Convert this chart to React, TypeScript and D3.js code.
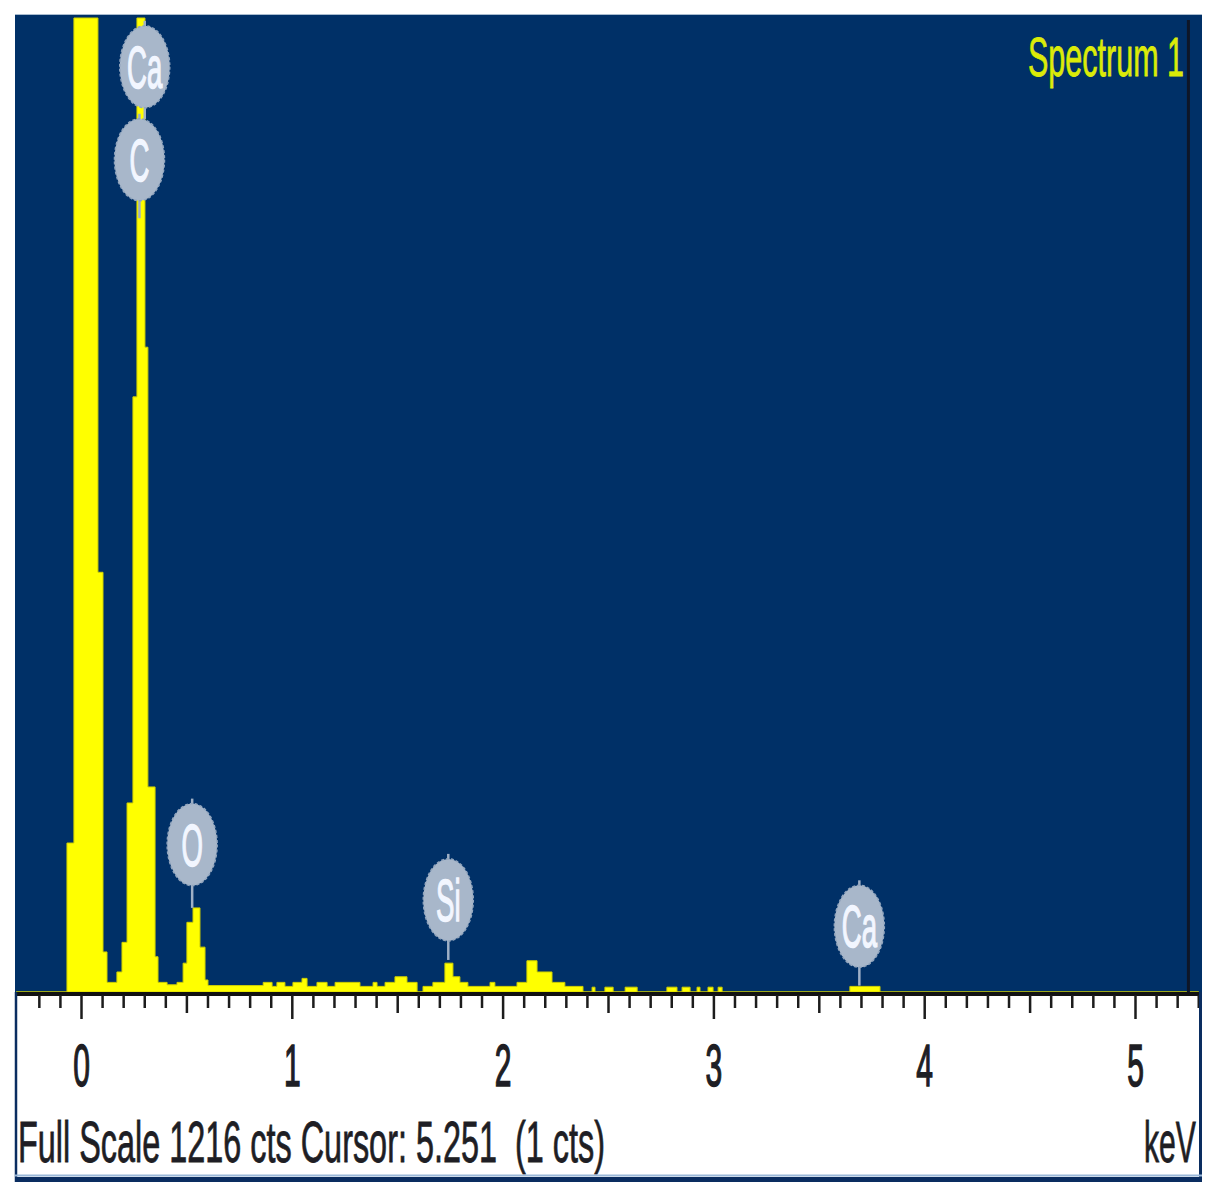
import React from "react";
import * as d3 from "d3";

// ---- data ----
// Left edges of histogram steps (keV) and their counts
const stepEnergies = [
  -0.31, -0.069, -0.036, 0.078, 0.102, 0.121, 0.168, 0.192, 0.216, 0.244, 0.263, 0.301, 0.315,
  0.349, 0.363, 0.406, 0.453, 0.482, 0.5, 0.529, 0.562, 0.586, 0.6,
  0.862, 0.904, 0.927, 0.965, 1.003, 1.046, 1.07, 1.117, 1.165, 1.203, 1.321, 1.383, 1.402,
  1.44, 1.487, 1.544, 1.592, 1.62, 1.667, 1.724, 1.762, 1.795, 1.833, 1.938, 1.961, 2.066,
  2.113, 2.161, 2.232, 2.293, 2.379, 2.422, 2.436, 2.483, 2.522, 2.579, 2.636, 2.777, 2.825,
  2.849, 2.887, 2.92, 2.934, 2.972, 2.996, 3.02, 3.039, 3.645, 3.788, 5.3,
];
const stepCounts = [
  0, 186, 1216, 524, 50, 12, 25, 62, 236, 743, 1216, 805, 256,
  44, 12, 9, 12, 36, 87, 105, 56, 15, 8,
  12, 7, 12, 7, 12, 17, 7, 12, 7, 12, 7, 12, 7,
  12, 19, 12, 0, 7, 12, 36, 19, 12, 7, 12, 7, 12,
  39, 25, 12, 7, 0, 6, 0, 6, 0, 6, 0, 6, 0,
  6, 0, 6, 0, 6, 0, 6, 0, 7, 0, 0,
];

const elementNames = ["Ca", "C", "O", "Si", "Ca"];
const elementEnergies = [0.3, 0.275, 0.525, 1.74, 3.69];
const labelCenterCounts = [1155, 1039, 184, 115, 82];
const stemEndCounts = [1090, 966, 105, 40, 8];

const tickLabels = ["0", "1", "2", "3", "4", "5"];
const fullScale = 1216;
const cursorKeV = 5.251;
const cursorCounts = 1;
const spectrumName = "Spectrum 1";

export default function App() {
  const x = d3.scaleLinear().domain([0, 5]).range([81.5, 81.5 + 5 * 210.8]);
  const y = d3.scaleLinear().domain([0, fullScale]).range([992, 18]).clamp(true);

  const pts = stepEnergies.map((e, i) => [e, stepCounts[i]] as [number, number]);
  const area = d3
    .area<[number, number]>()
    .x((d) => x(d[0]))
    .y0(y(0))
    .y1((d) => y(d[1]))
    .curve(d3.curveStepAfter);

  const ticks = d3.range(-2, 54);
  const fontFam = "'Liberation Sans', Arial, sans-serif";
  const ink = "#1e1e24";

  return (
    <svg
      width={1214}
      height={1202}
      style={{ position: "absolute", left: 0, top: 0, background: "#fff" }}
    >
      {/* plot background */}
      <rect x={15} y={14} width={1187} height={979} fill="#003067" />
      <line x1={15} x2={1202} y1={14.5} y2={14.5} stroke="#a9bccf" strokeWidth={1} />

      {/* spectrum */}
      <path d={area(pts) || ""} fill="#ffff00" stroke="#d0d000" strokeWidth={1} />

      {/* cursor */}
      <line
        x1={x(cursorKeV)}
        x2={x(cursorKeV)}
        y1={20}
        y2={992}
        stroke="#0e1628"
        strokeWidth={3}
      />

      {/* element labels */}
      {elementNames.map((name, i) => {
        const cx = x(elementEnergies[i]);
        const cy = y(labelCenterCounts[i]);
        const ry = 41;
        const rx = 25;
        return (
          <g key={i}>
            <line
              x1={cx}
              x2={cx}
              y1={cy - ry - 5}
              y2={y(stemEndCounts[i])}
              stroke="#9fb0c6"
              strokeWidth={2.5}
            />
            <ellipse cx={cx} cy={cy} rx={rx} ry={ry} fill="#a8b7ca" stroke="#93a6be" strokeWidth={1.5} strokeDasharray="3 2" />
            <text
              transform={`translate(${cx},${cy + 21}) scale(0.46,1)`}
              textAnchor="middle"
              fontFamily={fontFam}
              fontSize={60}
              fill="#f2f6ff"
              stroke="#f2f6ff"
              strokeWidth={1.5}
            >
              {name}
            </text>
          </g>
        );
      })}

      {/* spectrum name */}
      <text
        x={1028}
        y={76}
        fontFamily={fontFam}
        fontSize={56}
        fill="#dbeb08"
        stroke="#dbeb08"
        strokeWidth={0.8}
        textLength={156}
        lengthAdjust="spacingAndGlyphs"
      >
        {spectrumName}
      </text>

      {/* bottom panel */}
      <rect x={15} y={992} width={1187} height={190} fill="#ffffff" />
      <rect x={16} y={992} width={1184} height={4} fill="#111" />
      {ticks.map((t) => {
        const xx = x(t / 10);
        const len = t % 10 === 0 ? 24 : t % 5 === 0 ? 18 : 13;
        return (
          <line key={t} x1={xx} x2={xx} y1={995} y2={995 + len} stroke="#1c1c1c" strokeWidth={2.5} />
        );
      })}
      {tickLabels.map((lab, i) => (
        <text
          key={lab}
          transform={`translate(${x(i)},1086) scale(0.5,1)`}
          textAnchor="middle"
          fontFamily={fontFam}
          fontSize={60}
          fill={ink}
          stroke={ink}
          strokeWidth={1.6}
        >
          {lab}
        </text>
      ))}
      <text
        x={18}
        y={1162}
        fontFamily={fontFam}
        fontSize={58}
        fill={ink}
        stroke={ink}
        strokeWidth={0.8}
        textLength={587}
        lengthAdjust="spacingAndGlyphs"
        style={{ whiteSpace: "pre" }}
      >
        {`Full Scale ${fullScale} cts Cursor: ${cursorKeV.toFixed(3)}  (${cursorCounts} cts)`}
      </text>
      <text
        x={1144}
        y={1162}
        fontFamily={fontFam}
        fontSize={58}
        fill={ink}
        stroke={ink}
        strokeWidth={0.8}
        textLength={52}
        lengthAdjust="spacingAndGlyphs"
      >
        keV
      </text>

      {/* panel borders */}
      <line x1={16} x2={16} y1={992} y2={1182} stroke="#0a2d60" strokeWidth={2.5} />
      <line x1={1200.5} x2={1200.5} y1={992} y2={1182} stroke="#0a2d60" strokeWidth={3} />
      <line x1={15} x2={1202} y1={1175.5} y2={1175.5} stroke="#9ab8d8" strokeWidth={2} />
      <line x1={15} x2={1202} y1={1179.5} y2={1179.5} stroke="#0a2d60" strokeWidth={5} />
    </svg>
  );
}
